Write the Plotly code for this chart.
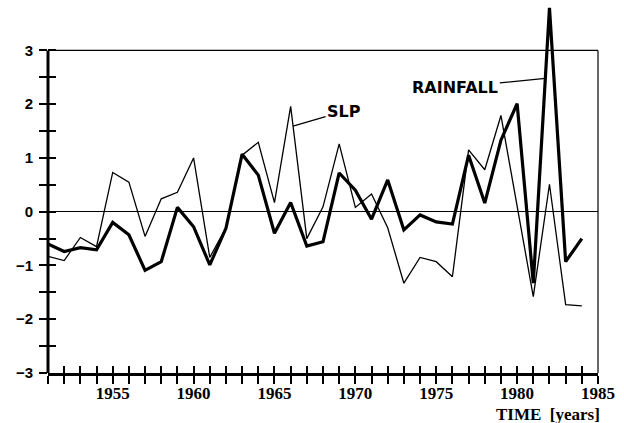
import plotly.graph_objects as go

years = list(range(1951, 1985))
rainfall = [-0.60, -0.74, -0.67, -0.71, -0.20, -0.43, -1.09, -0.93, 0.08, -0.28,
            -0.99, -0.31, 1.07, 0.68, -0.40, 0.17, -0.64, -0.56, 0.72, 0.40,
            -0.14, 0.59, -0.34, -0.06, -0.19, -0.23, 1.05, 0.16, 1.33, 2.01,
            -1.33, 3.79, -0.93, -0.50]
slp = [-0.83, -0.91, -0.48, -0.65, 0.73, 0.55, -0.46, 0.24, 0.36, 1.00,
       -0.85, -0.30, 1.05, 1.29, 0.17, 1.96, -0.50, 0.09, 1.26, 0.08,
       0.33, -0.30, -1.33, -0.85, -0.93, -1.21, 1.15, 0.78, 1.79, 0.10,
       -1.58, 0.51, -1.73, -1.75]

x_tick_vals = list(range(1951, 1986))
x_tick_text = [str(v) if v % 5 == 0 else "" for v in x_tick_vals]
y_tick_vals = [-3, -2.5, -2, -1.5, -1, -0.5, 0, 0.5, 1, 1.5, 2, 2.5, 3]
y_tick_text = ["\u22123", "", "\u22122", "", "\u22121", "", "0", "", "1", "", "2", "", "3"]

fig = go.Figure()
fig.add_trace(go.Scatter(x=years, y=slp, mode="lines", name="SLP",
                         line=dict(color="black", width=1.3)))
fig.add_trace(go.Scatter(x=years, y=rainfall, mode="lines", name="RAINFALL",
                         line=dict(color="black", width=3.2)))

xr = [1951, 1985]
yr = [-3, 3.9]
y_frame = [-3, 3]
fig.update_layout(
    width=624, height=423,
    margin=dict(l=48, r=26, t=2, b=50),
    paper_bgcolor="white", plot_bgcolor="white",
    showlegend=False,
    xaxis=dict(range=xr, tickvals=x_tick_vals, ticktext=x_tick_text,
               ticks="outside", ticklen=8, tickwidth=1.5, tickcolor="black",
               showline=True, linewidth=3, linecolor="black",
               showgrid=False, zeroline=False, ticklabelstandoff=-5,
               tickfont=dict(family="Liberation Serif", size=17, color="black",
                             weight="bold")),
    xaxis2=dict(range=xr, overlaying="x", anchor="y", side="bottom",
                dtick=1, tick0=1951, ticks="inside", ticklen=7, tickwidth=1.5,
                tickcolor="black", showticklabels=False, showline=False,
                showgrid=False, zeroline=False),
    yaxis=dict(range=yr, tickvals=y_tick_vals, ticktext=y_tick_text,
               ticks="outside", ticklen=8, tickwidth=1.5, tickcolor="black",
               showline=False, ticklabelstandoff=3,
               showgrid=False, zeroline=True, zerolinecolor="black", zerolinewidth=1.2,
               tickfont=dict(family="Liberation Sans", size=15, color="black",
                             weight="bold")),
    yaxis2=dict(range=yr, overlaying="y", anchor="x", side="left",
                tickvals=y_tick_vals, ticks="inside", ticklen=8, tickwidth=1.5,
                tickcolor="black", showticklabels=False, showline=False,
                showgrid=False, zeroline=False),
)
fig.add_trace(go.Scatter(x=[None], y=[None], xaxis="x2", yaxis="y2",
                         showlegend=False, hoverinfo="skip"))

# frame: thick left axis, thin top and right edges (from -3 to 3)
fig.add_shape(type="line", xref="paper", yref="y", x0=0, x1=0,
              y0=y_frame[0], y1=y_frame[1], line=dict(color="black", width=3))
fig.add_shape(type="line", xref="paper", yref="y", x0=1, x1=1,
              y0=y_frame[0], y1=y_frame[1], line=dict(color="black", width=1.2))
fig.add_shape(type="line", xref="paper", yref="y", x0=0, x1=1,
              y0=y_frame[1], y1=y_frame[1], line=dict(color="black", width=1.2),
              layer="below")

fig.add_annotation(x=1966.15, y=1.59, xref="x", yref="y", text="SLP",
                   showarrow=True, arrowhead=0, arrowwidth=1.3, arrowcolor="black",
                   ax=51, ay=-15, axref="pixel", ayref="pixel",
                   font=dict(family="DejaVu Sans", size=16, color="black", weight="bold"))
fig.add_annotation(x=1981.74, y=2.48, xref="x", yref="y", text="RAINFALL",
                   showarrow=True, arrowhead=0, arrowwidth=1.3, arrowcolor="black",
                   ax=-90, ay=9, axref="pixel", ayref="pixel",
                   font=dict(family="DejaVu Sans", size=16, color="black", weight="bold"))
fig.add_annotation(x=1.008, y=0, xref="paper", yref="paper", text="<b>TIME  [years]</b>",
                   showarrow=False, xanchor="right", yanchor="middle", yshift=-41,
                   font=dict(family="Liberation Serif", size=17, color="black"))

fig.write_html("out.html", config={"displayModeBar": False},
               post_script="document.body.style.margin='0';document.body.style.overflow='hidden';")
